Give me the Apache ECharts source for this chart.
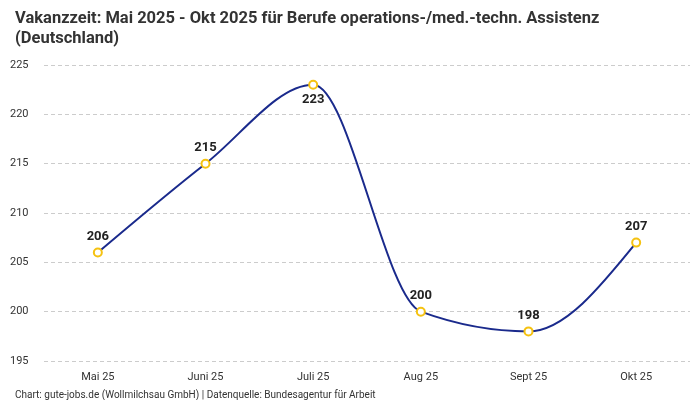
<!DOCTYPE html>
<html><head><meta charset="utf-8">
<script src="https://cdn.jsdelivr.net/npm/echarts@6/dist/echarts.min.js"></script>
<style>html,body{margin:0;padding:0;background:#fff}#c{width:700px;height:400px}</style>
</head><body><div id="c"></div>
<script>
const categories = ["Mai 25","Juni 25","Juli 25","Aug 25","Sept 25","Okt 25"];
const values = [206,215,223,200,198,207];
const labelBelow = [false,false,true,false,false,false];
const yTicks = {min:195,max:225,interval:5};
const titleText = "Vakanzzeit: Mai 2025 - Okt 2025 für Berufe operations-/med.-techn. Assistenz\n(Deutschland)";
const footerText = "Chart: gute-jobs.de (Wollmilchsau GmbH) | Datenquelle: Bundesagentur für Arbeit";
const FONT = "Roboto";
const LINE = '#1a2a8c';

// monotone cubic (Fritsch–Carlson, like d3.curveMonotoneX) tangents in pixel space
function tangents(pts){
  const n = pts.length, t = new Array(n).fill(0);
  const sign = v => v < 0 ? -1 : 1;
  for (let i = 1; i < n - 1; i++) {
    const h0 = pts[i][0]-pts[i-1][0], h1 = pts[i+1][0]-pts[i][0];
    const s0 = (pts[i][1]-pts[i-1][1])/h0, s1 = (pts[i+1][1]-pts[i][1])/h1;
    const p = (s0*h1 + s1*h0)/(h0+h1);
    t[i] = (sign(s0)+sign(s1)) * Math.min(Math.abs(s0), Math.abs(s1), 0.5*Math.abs(p)) || 0;
  }
  const h = pts[1][0]-pts[0][0];
  t[0] = (3*(pts[1][1]-pts[0][1])/h - t[1])/2;
  const m = n-1, hm = pts[m][0]-pts[m-1][0];
  t[m] = (3*(pts[m][1]-pts[m-1][1])/hm - t[m-1])/2;
  return t;
}

const chart = echarts.init(document.getElementById('c'));
chart.setOption({
  animation:false,
  title:[{text:titleText,left:10,top:4,textStyle:{fontFamily:FONT,fontSize:16.5,fontWeight:'bold',color:'#333',lineHeight:20}},
         {text:footerText,left:10,top:385,textStyle:{fontFamily:FONT,fontSize:10,fontWeight:'normal',color:'#333'}}],
  grid:{left:44,right:10,top:65,bottom:39,containLabel:false},
  xAxis:{type:'category',data:categories,boundaryGap:true,
    axisLine:{show:false},axisTick:{show:false},
    axisLabel:{fontFamily:FONT,fontSize:11,color:'#333',margin:11}},
  yAxis:{type:'value',min:yTicks.min,max:yTicks.max,interval:yTicks.interval,
    axisLine:{show:false},axisTick:{show:false},
    axisLabel:{fontFamily:FONT,fontSize:11,color:'#333',align:'left',margin:34},
    splitLine:{lineStyle:{type:[4,3],color:'#ccc'}}},
  series:[
  {type:'custom',z:1,silent:true,
    data:values.map((v,i)=>[i,v]),
    renderItem:function(params, api){
      const i = params.dataIndex;
      if (i !== 0) return null;
      const pts = values.map((v,k)=>api.coord([k,v]));
      const t = tangents(pts);
      let d = 'M'+pts[0][0]+','+pts[0][1];
      for (let k = 0; k < pts.length-1; k++){
        const dx = (pts[k+1][0]-pts[k][0])/3;
        d += ' C'+(pts[k][0]+dx)+','+(pts[k][1]+dx*t[k])+' '+(pts[k+1][0]-dx)+','+(pts[k+1][1]-dx*t[k+1])+' '+pts[k+1][0]+','+pts[k+1][1];
      }
      return {type:'path',shape:{pathData:d},style:{fill:null,stroke:LINE,lineWidth:2}};
    }},
  {type:'line',z:3,
    data:values.map((v,i)=>({value:v,label:{position:labelBelow[i]?'bottom':'top'}})),
    symbol:'circle',symbolSize:8,
    lineStyle:{opacity:0,width:0},
    itemStyle:{color:'#fff',borderColor:'#f5c211',borderWidth:2},
    label:{show:true,fontFamily:FONT,fontSize:13,fontWeight:'bold',color:'#222',distance:4}
  }]
});
</script></body></html>
